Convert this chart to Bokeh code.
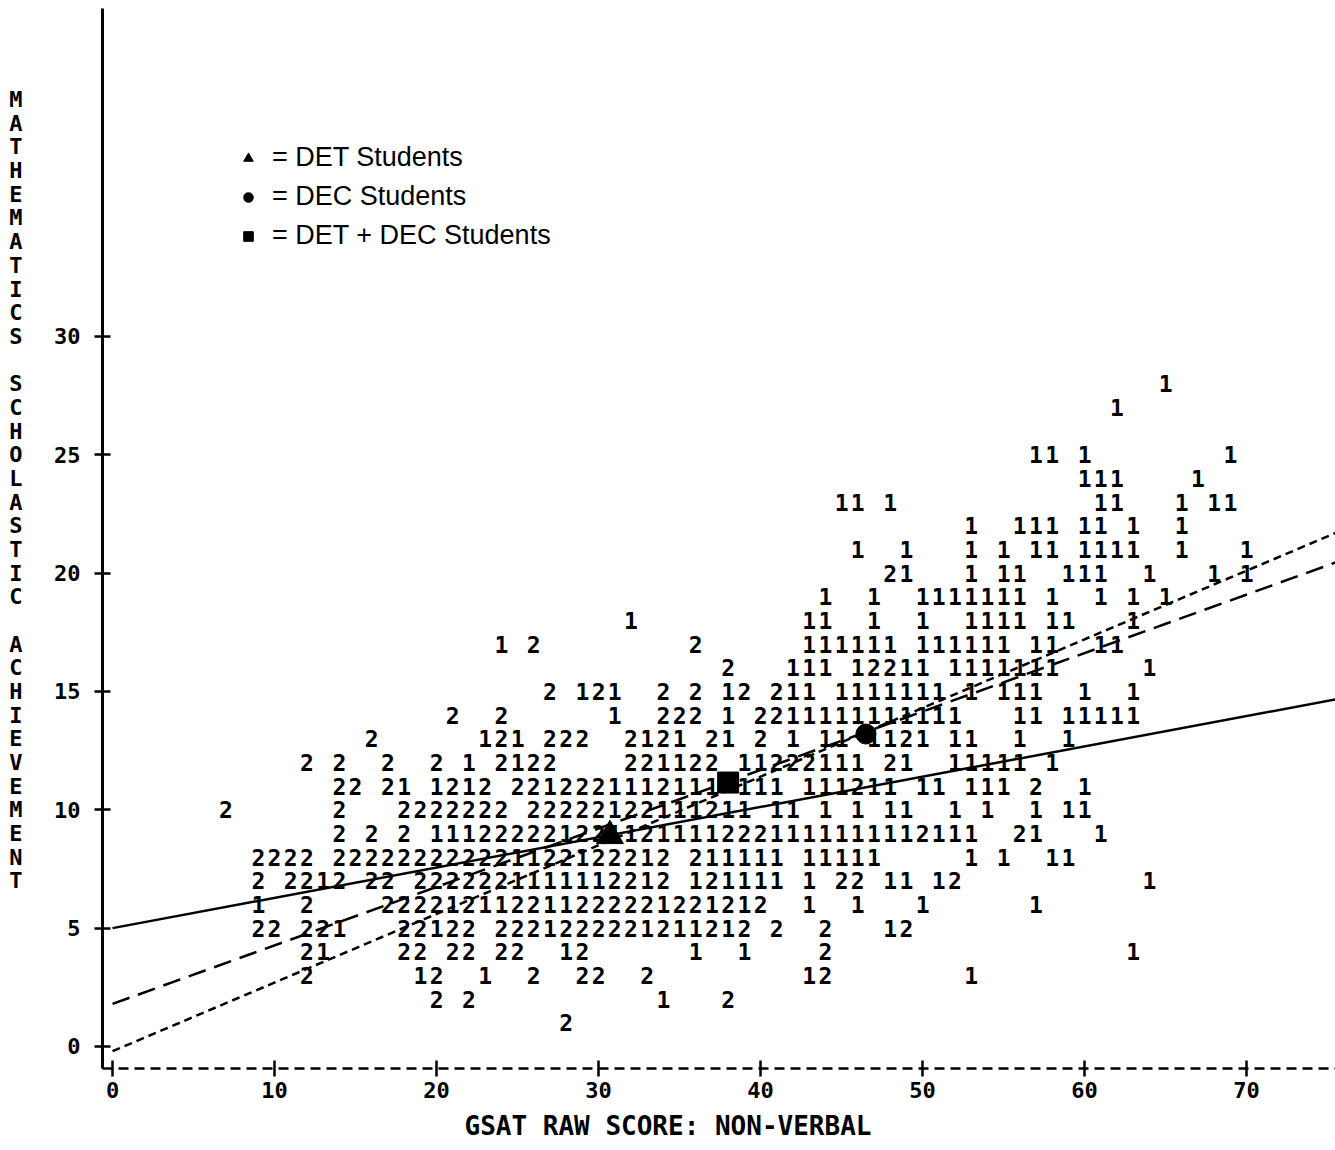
from bokeh.plotting import figure
from bokeh.models import (ColumnDataSource, Range1d, FixedTicker, Legend, LegendItem,
                          LinearAxis, Title)
from bokeh.core.properties import value
from bokeh.embed import file_html
from bokeh.resources import INLINE

# ---- data: printer-plot rows (y value, list of (first x column, characters)) ----
row_y = [28, 27, 25, 24, 23, 22, 21, 20, 19, 18, 17, 16, 15, 14, 13, 12, 11, 10, 9, 8, 7, 6, 5, 4, 3, 2, 1]
row_segments = [
    [(65, "1")],
    [(62, "1")],
    [(57, "11"), (60, "1"), (69, "1")],
    [(60, "111"), (67, "1")],
    [(45, "11"), (48, "1"), (61, "11"), (66, "1"), (68, "11")],
    [(53, "1"), (56, "111"), (60, "11"), (63, "1"), (66, "1")],
    [(46, "1"), (49, "1"), (53, "1"), (55, "1"), (57, "11"), (60, "1111"), (66, "1"), (70, "1")],
    [(48, "21"), (53, "1"), (55, "11"), (59, "111"), (64, "1"), (68, "1"), (70, "1")],
    [(44, "1"), (47, "1"), (50, "1111111"), (58, "1"), (61, "1"), (63, "1"), (65, "1")],
    [(32, "1"), (43, "11"), (47, "1"), (50, "1"), (53, "1111"), (58, "11"), (63, "1")],
    [(24, "1"), (26, "2"), (36, "2"), (43, "111111"), (50, "111111"), (57, "11"), (61, "11")],
    [(38, "2"), (42, "111"), (46, "12211"), (52, "1111111"), (64, "1")],
    [(27, "2"), (29, "121"), (34, "2"), (36, "2"), (38, "12"), (41, "211"), (45, "1111111"),
     (53, "1"), (55, "111"), (60, "1"), (63, "1")],
    [(21, "2"), (24, "2"), (31, "1"), (34, "222"), (38, "1"), (40, "2211111111111"), (56, "11"), (59, "11111")],
    [(16, "2"), (23, "121"), (27, "222"), (32, "2121"), (37, "21"), (40, "2"), (42, "1"), (44, "11"),
     (47, "1121"), (52, "11"), (56, "1"), (59, "1")],
    [(12, "2"), (14, "2"), (17, "2"), (20, "2"), (22, "1"), (24, "2122"), (32, "221122"), (39, "11222111"),
     (48, "21"), (52, "11111"), (58, "1")],
    [(14, "22"), (17, "21"), (20, "1212"), (25, "2212221112111"), (39, "111"), (43, "111211"), (50, "11"),
     (53, "111"), (57, "2"), (60, "1")],
    [(7, "2"), (14, "2"), (18, "2222222"), (26, "22222122111211"), (41, "11"), (44, "1"), (46, "1"),
     (48, "11"), (52, "1"), (54, "1"), (57, "1"), (59, "11")],
    [(14, "2"), (16, "2"), (18, "2"), (20, "111222221221"), (32, "1211112221111111112111"), (56, "21"), (61, "1")],
    [(9, "2222"), (14, "222222222221122122212"), (36, "211111"), (43, "11111"), (53, "1"), (55, "1"), (58, "11")],
    [(9, "2"), (11, "2212"), (16, "22"), (19, "2222221111112212"), (36, "121111"), (43, "1"), (45, "22"),
     (48, "11"), (51, "12"), (64, "1")],
    [(9, "1"), (12, "2"), (17, "222212112211222221221212"), (43, "1"), (46, "1"), (50, "1"), (57, "1")],
    [(9, "22"), (12, "221"), (18, "22122"), (24, "2221222221211212"), (41, "2"), (44, "2"), (48, "12")],
    [(12, "21"), (18, "22"), (21, "22"), (24, "22"), (28, "12"), (36, "1"), (39, "1"), (44, "2"), (63, "1")],
    [(12, "2"), (19, "12"), (23, "1"), (26, "2"), (29, "22"), (33, "2"), (43, "12"), (53, "1")],
    [(20, "2"), (22, "2"), (34, "1"), (38, "2")],
    [(28, "2")],
]

# group means and regression lines
mean_group = ["DET Students", "DEC Students", "DET + DEC Students"]
mean_x = [30.7, 46.5, 38.0]
mean_y = [8.9, 13.2, 11.15]
mean_marker = ["triangle", "circle", "square"]
reg_intercept = [5.0, -0.2, 1.8]
reg_slope = [0.128, 0.29, 0.247]

x_ticks = [0, 10, 20, 30, 40, 50, 60, 70]
y_ticks = [0, 5, 10, 15, 20, 25, 30]
x_title = "GSAT RAW SCORE: NON-VERBAL"
y_title = "MATHEMATICS SCHOLASTIC ACHIEVEMENT"
y_title_top_row = 40

# ---- build point table from the printed rows ----
xs, ys, ts = [], [], []
for yv, segs in zip(row_y, row_segments):
    for x0, s in segs:
        for i, ch in enumerate(s):
            if ch != " ":
                xs.append(x0 + i)
                ys.append(yv)
                ts.append(ch)
src = ColumnDataSource(dict(x=xs, y=ys, t=ts))

MONO = "DejaVu Sans Mono"

p = figure(width=1335, height=1150,
           x_range=Range1d(-0.62, 75.49), y_range=Range1d(-0.93, 43.85),
           output_backend="svg", toolbar_location=None, title=None,
           min_border_left=102, min_border_right=0, min_border_top=8, min_border_bottom=82)
p.grid.visible = False
p.outline_line_color = None
p.background_fill_color = "white"
p.border_fill_color = "white"

p.text(x="x", y="y", text="t", source=src,
       text_font=value(MONO), text_font_style="bold", text_font_size="23px",
       text_align="center", text_baseline="middle", text_color="black")

line_styles = ["solid", "8 5", "18 9"]
for b, m, d in zip(reg_intercept, reg_slope, line_styles):
    lx = [0, 76]
    p.line(lx, [b + m * xv for xv in lx], line_color="black", line_width=2.5, line_dash=d)

marker_size = {"triangle": 27, "circle": 20, "square": 21}
items = []
for name, mx, my, mk in zip(mean_group, mean_x, mean_y, mean_marker):
    r = p.scatter([mx], [my], marker=mk, size=marker_size[mk], color="black")
    items.append(LegendItem(label="= " + name, renderers=[r]))

leg = Legend(items=items, location=(134, 817), border_line_color=None, background_fill_alpha=0,
             label_text_font="Liberation Sans", label_text_font_size="27px", label_text_color="black",
             glyph_width=24, glyph_height=24, label_standoff=12, spacing=8, padding=0, margin=0)
p.add_layout(leg)

xa = p.xaxis[0]
xa.ticker = FixedTicker(ticks=x_ticks)
xa.axis_line_dash = "10 6"
xa.axis_line_width = 2.5
xa.axis_line_color = "black"
xa.major_tick_in = 8
xa.major_tick_out = 8
xa.major_tick_line_width = 2.5
xa.major_tick_line_color = "black"
xa.minor_tick_line_color = None
xa.major_label_text_font = MONO
xa.major_label_text_font_style = "bold"
xa.major_label_text_font_size = "22px"
xa.major_label_text_color = "black"
xa.major_label_standoff = 5

ya = p.yaxis[0]
ya.ticker = FixedTicker(ticks=y_ticks)
ya.axis_line_width = 3
ya.axis_line_color = "black"
ya.major_tick_in = 8
ya.major_tick_out = 8
ya.major_tick_line_width = 2.5
ya.major_tick_line_color = "black"
ya.minor_tick_line_color = None
ya.major_label_text_font = MONO
ya.major_label_text_font_style = "bold"
ya.major_label_text_font_size = "22px"
ya.major_label_text_color = "black"
ya.major_label_standoff = 14

# stacked (printer style) y title: one letter per row, drawn by a bare axis
title_rows = [y_title_top_row - i for i, ch in enumerate(y_title) if ch != " "]
title_letters = [ch for ch in y_title if ch != " "]
ta = LinearAxis(ticker=FixedTicker(ticks=title_rows),
                major_label_overrides={r: ch for r, ch in zip(title_rows, title_letters)},
                axis_line_color=None, major_tick_line_color=None, minor_tick_line_color=None,
                major_tick_in=0, major_tick_out=0,
                major_label_standoff=29, major_label_text_font=MONO,
                major_label_text_font_style="bold", major_label_text_font_size="22px",
                major_label_text_color="black")
p.add_layout(ta, "left")

# x title, printed slightly left of the frame centre as in the original
p.add_layout(Title(text=x_title, align="left", offset=362, standoff=17,
                   text_font=MONO, text_font_style="bold", text_font_size="26px",
                   text_color="black"), "below")

open("out.html", "w").write(file_html(p, INLINE))
